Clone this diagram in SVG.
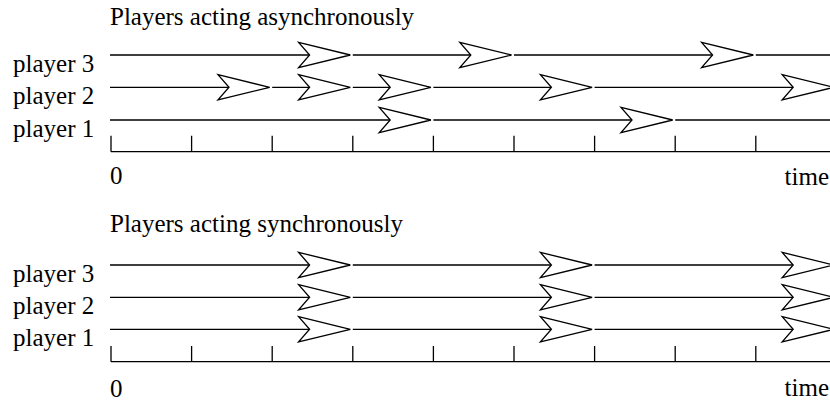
<svg xmlns="http://www.w3.org/2000/svg" width="830" height="401" viewBox="0 0 830 401">
  <defs>
    <!-- open chevron arrowhead, tip at the origin -->
    <polygon id="head" points="0,0 -51.7,-12.6 -40.7,0 -51.7,12.6" />
    <style>
      .ln { stroke: #000; stroke-width: 1.3; fill: none; }
      .hd { fill: #fff; stroke: #000; stroke-width: 1.3; stroke-linejoin: miter; }
    </style>
  </defs>
  <rect width="830" height="401" fill="#fff" />

  <!-- ===== asynchronous ===== -->
  <g id="async">
    <g id="async-labels" font-family="Liberation Serif, Times New Roman, Times, serif" font-size="25" fill="#000">
      <text x="110" y="24.5">Players acting asynchronously</text>
      <text x="13" y="72">player 3</text>
      <text x="13" y="104.3">player 2</text>
      <text x="13" y="136.8">player 1</text>
      <text x="110" y="184">0</text>
      <text x="829" y="185" text-anchor="end">time</text>
    </g>

    <g id="async-axis" class="ln">
      <path d="M111,151.7 H835 M111,135.7 V151.7 M191.6,135.7 V151.7 M272.2,135.7 V151.7 M352.8,135.7 V151.7 M433.4,135.7 V151.7 M514,135.7 V151.7 M594.6,135.7 V151.7 M675.2,135.7 V151.7 M755.8,135.7 V151.7" />
    </g>

    <g id="async-connectors" class="ln">
      <!-- player 3: moves at t3, t5, t8 -->
      <path d="M110,55 H309.6 M352.8,55 H470.8 M514,55 H712.6 M755.8,55 H835" />
      <!-- player 2: moves at t2, t3, t4, t6, t9 -->
      <path d="M110,87.3 H229 M272.2,87.3 H309.6 M352.8,87.3 H390.2 M433.4,87.3 H551.4 M594.6,87.3 H793.2" />
      <!-- player 1: moves at t4, t7 -->
      <path d="M110,120 H390.2 M433.4,120 H632 M675.2,120 H835" />
    </g>

    <g id="async-p3" class="hd">
      <use href="#head" x="350.3" y="55" />
      <use href="#head" x="511.5" y="55" />
      <use href="#head" x="753.3" y="55" />
    </g>
    <g id="async-p2" class="hd">
      <use href="#head" x="269.7" y="87.3" />
      <use href="#head" x="350.3" y="87.3" />
      <use href="#head" x="430.9" y="87.3" />
      <use href="#head" x="592.1" y="87.3" />
      <use href="#head" x="833.9" y="87.3" />
    </g>
    <g id="async-p1" class="hd">
      <use href="#head" x="430.9" y="120" />
      <use href="#head" x="672.7" y="120" />
    </g>
  </g>

  <!-- ===== synchronous ===== -->
  <g id="sync">
    <g id="sync-labels" font-family="Liberation Serif, Times New Roman, Times, serif" font-size="25" fill="#000">
      <text x="110" y="232">Players acting synchronously</text>
      <text x="13" y="281.7">player 3</text>
      <text x="13" y="314">player 2</text>
      <text x="13" y="346">player 1</text>
      <text x="110" y="396.5">0</text>
      <text x="829" y="396" text-anchor="end">time</text>
    </g>

    <g id="sync-axis" class="ln">
      <path d="M111,361.7 H835 M111,346 V361.7 M191.6,346 V361.7 M272.2,346 V361.7 M352.8,346 V361.7 M433.4,346 V361.7 M514,346 V361.7 M594.6,346 V361.7 M675.2,346 V361.7 M755.8,346 V361.7" />
    </g>

    <g id="sync-connectors" class="ln">
      <path d="M110,265 H309.6 M352.8,265 H551.4 M594.6,265 H793.2" />
      <path d="M110,297.3 H309.6 M352.8,297.3 H551.4 M594.6,297.3 H793.2" />
      <path d="M110,329.3 H309.6 M352.8,329.3 H551.4 M594.6,329.3 H793.2" />
    </g>

    <g id="sync-p3" class="hd">
      <use href="#head" x="350.3" y="265" />
      <use href="#head" x="592.1" y="265" />
      <use href="#head" x="833.9" y="265" />
    </g>
    <g id="sync-p2" class="hd">
      <use href="#head" x="350.3" y="297.3" />
      <use href="#head" x="592.1" y="297.3" />
      <use href="#head" x="833.9" y="297.3" />
    </g>
    <g id="sync-p1" class="hd">
      <use href="#head" x="350.3" y="329.3" />
      <use href="#head" x="592.1" y="329.3" />
      <use href="#head" x="833.9" y="329.3" />
    </g>
  </g>
</svg>
